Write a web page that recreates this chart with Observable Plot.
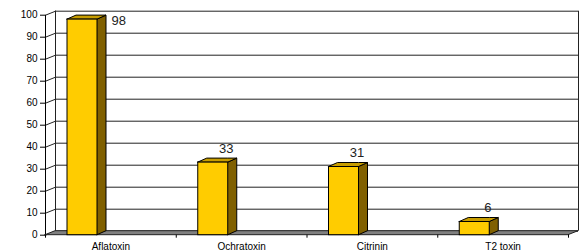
<!DOCTYPE html>
<html>
<head>
<meta charset="utf-8">
<script src="https://cdn.jsdelivr.net/npm/d3@7"></script>
<script src="https://cdn.jsdelivr.net/npm/@observablehq/plot@0.6"></script>
<style>
  html, body { margin: 0; padding: 0; background: #fff; }
  svg { display: block; }
</style>
</head>
<body>
<div id="chart"></div>
<script>
// ---- data ----
const categories = ["Aflatoxin", "Ochratoxin", "Citrinin", "T2 toxin"];
const values = [98, 33, 31, 6];
const yTicks = [0, 10, 20, 30, 40, 50, 60, 70, 80, 90, 100];

// ---- layout ----
const W = 579, H = 252;
const mL = 45, mR = 11, mT = 14.7, mB = 17.3;
const kx = (W - mL - mR) / categories.length; // px per category unit
const ky = (H - mT - mB) / 100;               // px per value unit
const WALL_DX = 10 / kx, WALL_DY = 4 / ky;    // wall depth in data units
const BAR_DX = 9 / kx, BAR_DY = 4 / ky;       // bar depth
const B0 = 22 / kx, B1 = 52 / kx;             // bar front-face span within band
const N = categories.length;

const bars = categories.map((c, i) => ({c, i, v: values[i]}));

// back wall lines
const grid = yTicks.map(t => ({t}));

// floor polygon as area
const floor = [
  {x: 0, y1: 0, y2: 0},
  {x: WALL_DX, y1: 0, y2: WALL_DY},
  {x: N, y1: 0, y2: WALL_DY},
  {x: N + WALL_DX, y1: WALL_DY, y2: WALL_DY}
];

const sides = bars.flatMap(b => [
  {c: b.c, x: b.i + B1, y1: 0, y2: b.v},
  {c: b.c, x: b.i + B1 + BAR_DX, y1: BAR_DY, y2: b.v + BAR_DY}
]);
const tops = bars.flatMap(b => [
  {c: b.c, x: b.i + B0, y1: b.v, y2: b.v},
  {c: b.c, x: b.i + B0 + BAR_DX, y1: b.v, y2: b.v + BAR_DY},
  {c: b.c, x: b.i + B1, y1: b.v, y2: b.v + BAR_DY},
  {c: b.c, x: b.i + B1 + BAR_DX, y1: b.v + BAR_DY, y2: b.v + BAR_DY}
]);

const labelsAbove = bars.filter(b => b.v + BAR_DY + 16 / ky <= 100);
const labelsBeside = bars.filter(b => b.v + BAR_DY + 16 / ky > 100);

const font = "'Liberation Sans', Arial, sans-serif";

const chart = Plot.plot({
  width: W, height: H,
  marginLeft: mL, marginRight: mR, marginTop: mT, marginBottom: mB,
  style: {fontFamily: font, background: "#fff", overflow: "visible"},
  x: {domain: [0, N], axis: null, label: null},
  y: {domain: [0, 100], axis: null, label: null},
  marks: [
    // back wall gridlines
    Plot.ruleY(grid, {y: d => d.t + WALL_DY, x1: WALL_DX, x2: N + WALL_DX, stroke: "#222", strokeWidth: 1, clip: false}),
    // back wall left & right edges
    Plot.ruleX([WALL_DX, N + WALL_DX], {x: d => d, y1: WALL_DY, y2: 100 + WALL_DY, stroke: "#222", clip: false}),
    // left wall slanted connectors
    Plot.link(grid, {x1: 0, y1: d => d.t, x2: WALL_DX, y2: d => d.t + WALL_DY, stroke: "#222"}),
    // front vertical axis
    Plot.ruleX([0], {y1: 0, y2: 100, stroke: "#000"}),
    // floor
    Plot.areaY(floor, {x: "x", y1: "y1", y2: "y2", fill: "#808080", stroke: "#222", strokeWidth: 1, curve: "linear"}),
    // y axis ticks and labels
    Plot.axisY(yTicks, {anchor: "left", label: null, tickSize: 5, tickPadding: 3, fontSize: 10, letterSpacing: "0.6px", stroke: "#000", color: "#000"}),
    // category boundary ticks
    Plot.axisX([0, 1, 2, 3, 4], {anchor: "bottom", label: null, tickSize: 3, tickFormat: () => "", stroke: "#000"}),
    // category labels
    Plot.axisX([0.5, 1.5, 2.5, 3.5], {anchor: "bottom", label: null, tickSize: 0, tickPadding: 8, tickFormat: d => categories[Math.floor(d)], fontSize: 10, letterSpacing: "0.7px", fill: "#000"}),
    // bars: side faces
    Plot.areaY(sides, {x: "x", y1: "y1", y2: "y2", z: "c", fill: "#806000", stroke: "#000", strokeWidth: 1}),
    // bars: top faces
    Plot.areaY(tops, {x: "x", y1: "y1", y2: "y2", z: "c", fill: "#C79D00", stroke: "#000", strokeWidth: 1}),
    // bars: front faces
    Plot.rectY(bars, {x1: d => d.i + B0, x2: d => d.i + B1, y1: 0, y2: "v", fill: "#FFCC00", stroke: "#000", strokeWidth: 1}),
    // value labels
    Plot.text(labelsAbove, {x: d => d.i + (B0 + B1) / 2, y: d => d.v + BAR_DY, text: d => String(d.v), dx: 13, dy: -10, fontSize: 13, letterSpacing: "0.8px", fill: "#222"}),
    Plot.text(labelsBeside, {x: d => d.i + B1 + BAR_DX, y: "v", text: d => String(d.v), dx: 5, dy: 1, textAnchor: "start", fontSize: 13, letterSpacing: "0.8px", fill: "#222"})
  ]
});
document.getElementById("chart").appendChild(chart);
</script>
</body>
</html>
